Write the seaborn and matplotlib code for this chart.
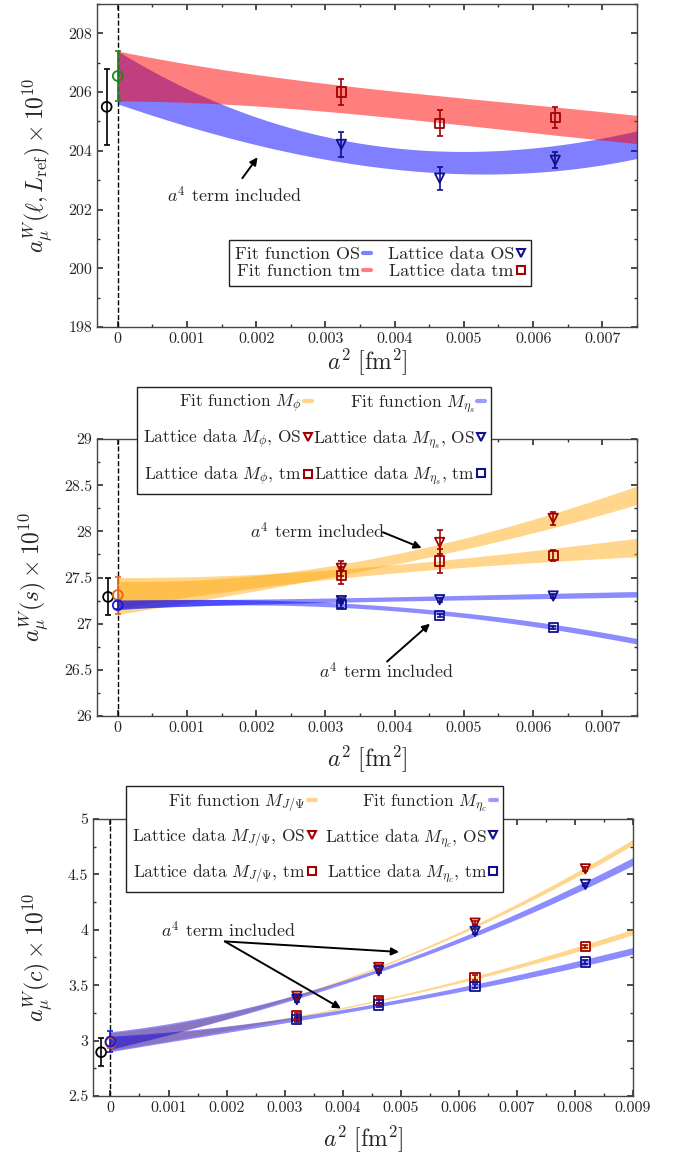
import numpy as np
import seaborn as sns
import matplotlib.pyplot as plt
from matplotlib.lines import Line2D
from matplotlib.ticker import MultipleLocator, FuncFormatter

# ---------------- panel 1 : light quarks ----------------
l_a2 = [0.00323, 0.00465, 0.00632]
l_tm = [206.0, 204.94, 205.14]
l_tm_err = [0.44, 0.44, 0.37]
l_os = [204.22, 203.07, 203.68]
l_os_err = [0.42, 0.39, 0.28]
l_ref = [-0.00016, 205.5, 1.3]        # x, value, error (black)
l_cont = [0.0, 206.55, 0.85]          # continuum result (green)
l_nodes = [0.0, 0.0025, 0.005, 0.0075]
l_tm_fit = [206.55, -243.0, 0.0]      # c0, c1, c2
l_tm_hw = [0.85, 0.50, 0.46, 0.48]
l_os_fit = [206.5, -1130.0, 110000.0]
l_os_hw = [0.90, 0.42, 0.38, 0.47]

# ---------------- panel 2 : strange ----------------
s_a2 = [0.00323, 0.00465, 0.00629]
s_phi_os = [27.60, 27.88, 28.14]
s_phi_os_err = [0.08, 0.13, 0.07]
s_phi_tm = [27.52, 27.68, 27.74]
s_phi_tm_err = [0.09, 0.13, 0.06]
s_eta_os = [27.25, 27.26, 27.30]
s_eta_os_err = [0.03, 0.02, 0.02]
s_eta_tm = [27.21, 27.09, 26.96]
s_eta_tm_err = [0.04, 0.02, 0.02]
s_ref = [-0.00014, 27.29, 0.2]
s_phi_cont = [0.0, 27.31, 0.2]
s_eta_cont = [0.0, 27.20, 0.045]
s_nodes = [0.0, 0.0025, 0.005, 0.0075]
s_phi_tm_fit = [27.33, 66.0, 0.0]
s_phi_tm_hw = [0.17, 0.06, 0.05, 0.10]
s_phi_os_fit = [27.28, 55.0, 12400.0]
s_phi_os_hw = [0.18, 0.07, 0.06, 0.10]
s_eta_os_fit = [27.21, 14.5, 0.0]
s_eta_os_hw = [0.05, 0.025, 0.025, 0.03]
s_eta_tm_fit = [27.2, 39.3, -12176.0]
s_eta_tm_hw = [0.05, 0.025, 0.025, 0.03]

# ---------------- panel 3 : charm ----------------
c_a2 = [0.00321, 0.00462, 0.00628, 0.00818]
c_jpsi_os = [3.40, 3.66, 4.06, 4.55]
c_jpsi_tm = [3.226, 3.36, 3.57, 3.85]
c_etac_os = [3.37, 3.63, 3.985, 4.41]
c_etac_tm = [3.19, 3.32, 3.49, 3.71]
c_err = [0.02, 0.02, 0.02, 0.015]
c_ref = [-0.00016, 2.895, 0.125]
c_jpsi_cont = [0.0, 2.98, 0.05]
c_etac_cont = [0.0, 2.99, 0.095]
c_nodes = [0.0, 0.003, 0.006, 0.009]
c_jpsi_os_fit = [3.0, 85.4, 12636.0]
c_jpsi_os_hw = [0.07, 0.012, 0.012, 0.025]
c_jpsi_tm_fit = [2.97, 55.95, 6267.0]
c_jpsi_tm_hw = [0.06, 0.010, 0.012, 0.025]
c_etac_os_fit = [3.0, 92.2, 9722.0]
c_etac_os_hw = [0.08, 0.02, 0.02, 0.035]
c_etac_tm_fit = [2.97, 58.0, 3930.0]
c_etac_tm_hw = [0.07, 0.02, 0.02, 0.03]

RED = '#a00000'
NAVY = '#10108c'

sns.set_theme(style='ticks')
plt.rcParams['font.family'] = ['cmr10', 'DejaVu Serif']
plt.rcParams['mathtext.fontset'] = 'cm'
plt.rcParams['axes.formatter.use_mathtext'] = True
plt.rcParams['axes.unicode_minus'] = False

fig = plt.figure(figsize=(6.8, 11.54), dpi=100)
ax1 = fig.add_axes([0.1426, 0.7166, 0.7941, 0.2799])
ax2 = fig.add_axes([0.1426, 0.3795, 0.7941, 0.2401])
ax3 = fig.add_axes([0.1368, 0.0503, 0.7941, 0.2400])


def band(ax, fit, nodes, hw, xmax, color, alpha):
    xs = np.linspace(0, xmax, 300)
    c = fit[0] + fit[1] * xs + fit[2] * xs ** 2
    h = np.polyval(np.polyfit(nodes, hw, 3), xs)
    ax.fill_between(xs, c - h, c + h, color=color, alpha=alpha, lw=0, zorder=2)


def points(ax, x, y, err, marker, color, size=45):
    ax.errorbar(x, y, yerr=err, fmt='none', ecolor=color, elinewidth=1.2,
                capsize=2.5, capthick=1.2, zorder=4)
    sns.scatterplot(x=x, y=y, marker=marker, s=size, facecolor='none',
                    edgecolor=color, linewidth=1.3, ax=ax, zorder=5)


def style(ax, xlim, ylim, xmaj, ymaj, ymin):
    ax.set_xlim(*xlim)
    ax.set_ylim(*ylim)
    ax.axvline(0, color='black', ls='--', lw=1, zorder=1)
    ax.xaxis.set_major_locator(MultipleLocator(xmaj))
    ax.xaxis.set_minor_locator(MultipleLocator(xmaj / 2))
    ax.yaxis.set_major_locator(MultipleLocator(ymaj))
    ax.yaxis.set_minor_locator(MultipleLocator(ymin))
    fmt = FuncFormatter(lambda v, p: '0' if abs(v) < 1e-12 else f'{v:g}')
    ax.xaxis.set_major_formatter(fmt)
    ax.yaxis.set_major_formatter(FuncFormatter(lambda v, p: f'{v:g}'))
    ax.tick_params(which='both', direction='in', top=True, right=True,
                   labelsize=11.5, color='#333333')
    ax.tick_params(which='major', length=4)
    ax.tick_params(which='minor', length=2.5)
    for s in ax.spines.values():
        s.set_color('#444444')
        s.set_linewidth(1.0)
    ax.set_xlabel(r'$a^2\ [\mathrm{fm}^2]$', fontsize=17, labelpad=6)


def arrow(ax, tail, head):
    ax.annotate('', xy=head, xytext=tail,
                arrowprops=dict(arrowstyle='-|>', color='black', lw=1.4,
                                mutation_scale=11, shrinkA=0, shrinkB=0),
                zorder=6)


def legend(ax, handles, labels, anchor, fs, spacing, colsp):
    leg = ax.legend(handles, labels, ncol=2, markerfirst=False, loc='upper left',
                    bbox_to_anchor=anchor, bbox_transform=fig.transFigure,
                    borderaxespad=0, fancybox=False, framealpha=1,
                    edgecolor='#222222', fontsize=fs, handlelength=0.45,
                    handletextpad=0.15, labelspacing=spacing, columnspacing=colsp,
                    borderpad=0.35)
    leg.get_frame().set_linewidth(1.0)
    leg.set_zorder(10)


def fit_h(color):
    return Line2D([], [], color=color, lw=3)


def data_h(marker, color):
    return Line2D([], [], ls='none', marker=marker, mfc='none', mec=color,
                  ms=6, mew=1.5)


# ---- panel 1 ----
band(ax1, l_os_fit, l_nodes, l_os_hw, 0.0075, '#0000ff', 0.5)
band(ax1, l_tm_fit, l_nodes, l_tm_hw, 0.0075, '#ff0000', 0.5)
points(ax1, l_a2, l_tm, l_tm_err, 's', RED)
points(ax1, l_a2, l_os, l_os_err, 'v', NAVY)
points(ax1, [l_ref[0]], [l_ref[1]], [l_ref[2]], 'o', 'black', 50)
points(ax1, [l_cont[0]], [l_cont[1]], [l_cont[2]], 'o', '#1a8a1a', 50)
style(ax1, (-0.0003, 0.0075), (198, 209), 0.001, 2, 1)
ax1.set_xlabel(r'$a^2\ [\mathrm{fm}^2]$', fontsize=17, labelpad=0)
ax1.set_ylabel(r'$a_\mu^W(\ell, L_{\mathrm{ref}})\times 10^{10}$', fontsize=17, labelpad=10)
ax1.text(0.00169, 202.5, r'$a^4$ term included', ha='center', va='center', fontsize=13)
arrow(ax1, (0.0018, 203.07), (0.00202, 203.78))
legend(ax1, [fit_h('#7f7fff'), fit_h('#ff7f7f'), data_h('v', NAVY), data_h('s', RED)],
       ['Fit function OS', 'Fit function tm', 'Lattice data OS', 'Lattice data tm'],
       (0.337, 0.792), 13, 0.1, 0.9)

# ---- panel 2 ----
band(ax2, s_phi_tm_fit, s_nodes, s_phi_tm_hw, 0.0075, '#ffa500', 0.45)
band(ax2, s_phi_os_fit, s_nodes, s_phi_os_hw, 0.0075, '#ffa500', 0.45)
band(ax2, s_eta_os_fit, s_nodes, s_eta_os_hw, 0.0075, '#0000ff', 0.45)
band(ax2, s_eta_tm_fit, s_nodes, s_eta_tm_hw, 0.0075, '#0000ff', 0.45)
points(ax2, s_a2, s_phi_os, s_phi_os_err, 'v', RED)
points(ax2, s_a2, s_phi_tm, s_phi_tm_err, 's', RED)
points(ax2, s_a2, s_eta_os, s_eta_os_err, 'v', NAVY)
points(ax2, s_a2, s_eta_tm, s_eta_tm_err, 's', NAVY)
points(ax2, [s_ref[0]], [s_ref[1]], [s_ref[2]], 'o', 'black', 50)
points(ax2, [s_phi_cont[0]], [s_phi_cont[1]], [s_phi_cont[2]], 'o', '#e0661a', 50)
points(ax2, [s_eta_cont[0]], [s_eta_cont[1]], [s_eta_cont[2]], 'o', '#1a1acc', 50)
style(ax2, (-0.0003, 0.0075), (26, 29), 0.001, 0.5, 0.25)
ax2.set_ylabel(r'$a_\mu^W(s)\times 10^{10}$', fontsize=17, labelpad=10)
ax2.text(0.00288, 28.0, r'$a^4$ term included', ha='center', va='center', fontsize=13)
arrow(ax2, (0.00383, 27.99), (0.00439, 27.82))
ax2.text(0.00388, 26.49, r'$a^4$ term included', ha='center', va='center', fontsize=13)
arrow(ax2, (0.00389, 26.59), (0.00451, 27.0))
legend(ax2, [fit_h('#ffd28c'), data_h('v', RED), data_h('s', RED),
             fit_h('#9c9cff'), data_h('v', NAVY), data_h('s', NAVY)],
       [r'Fit function $M_\phi$', r'Lattice data $M_\phi$, OS', r'Lattice data $M_\phi$, tm',
        r'Fit function $M_{\eta_s}$', r'Lattice data $M_{\eta_s}$, OS',
        r'Lattice data $M_{\eta_s}$, tm'],
       (0.2015, 0.6646), 12.5, 0.75, 0.05)

# ---- panel 3 ----
band(ax3, c_jpsi_os_fit, c_nodes, c_jpsi_os_hw, 0.009, '#ffa500', 0.45)
band(ax3, c_jpsi_tm_fit, c_nodes, c_jpsi_tm_hw, 0.009, '#ffa500', 0.45)
band(ax3, c_etac_os_fit, c_nodes, c_etac_os_hw, 0.009, '#0000ff', 0.45)
band(ax3, c_etac_tm_fit, c_nodes, c_etac_tm_hw, 0.009, '#0000ff', 0.45)
points(ax3, c_a2, c_jpsi_os, c_err, 'v', RED)
points(ax3, c_a2, c_jpsi_tm, c_err, 's', RED)
points(ax3, c_a2, c_etac_os, c_err, 'v', NAVY)
points(ax3, c_a2, c_etac_tm, c_err, 's', NAVY)
points(ax3, [c_ref[0]], [c_ref[1]], [c_ref[2]], 'o', 'black', 50)
points(ax3, [c_jpsi_cont[0]], [c_jpsi_cont[1]], [c_jpsi_cont[2]], 'o', '#e0661a', 50)
points(ax3, [c_etac_cont[0]], [c_etac_cont[1]], [c_etac_cont[2]], 'o', '#1a1acc', 50)
style(ax3, (-0.0003, 0.009), (2.5, 5), 0.001, 0.5, 0.25)
ax3.set_ylabel(r'$a_\mu^W(c)\times 10^{10}$', fontsize=17, labelpad=10)
ax3.text(0.00204, 4.0, r'$a^4$ term included', ha='center', va='center', fontsize=13)
arrow(ax3, (0.00197, 3.895), (0.00497, 3.80))
arrow(ax3, (0.00197, 3.895), (0.00397, 3.29))
legend(ax3, [fit_h('#ffd28c'), data_h('v', RED), data_h('s', RED),
             fit_h('#9c9cff'), data_h('v', NAVY), data_h('s', NAVY)],
       [r'Fit function $M_{J/\Psi}$', r'Lattice data $M_{J/\Psi}$, OS',
        r'Lattice data $M_{J/\Psi}$, tm', r'Fit function $M_{\eta_c}$',
        r'Lattice data $M_{\eta_c}$, OS', r'Lattice data $M_{\eta_c}$, tm'],
       (0.185, 0.3189), 12.5, 0.75, 0.55)

fig.savefig('out.png', dpi=100)
